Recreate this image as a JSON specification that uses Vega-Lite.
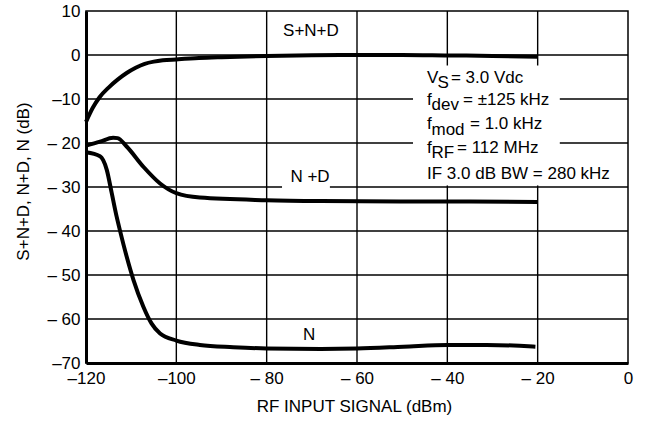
{
  "$schema": "https://vega.github.io/schema/vega-lite/v6.json",
  "width": 542,
  "height": 352,
  "autosize": {"type": "none"},
  "padding": {"left": 86, "top": 11, "right": 17, "bottom": 67},
  "background": "white",
  "config": {
    "view": {"stroke": "black", "strokeWidth": 1.5},
    "font": "Liberation Sans",
    "axis": {
      "grid": false,
      "ticks": false,
      "domainColor": "#000000",
      "domainWidth": 3,
      "labelFontSize": 17,
      "labelFont": "Liberation Sans",
      "labelColor": "#000000",
      "labelFlush": false,
      "labelOverlap": false,
      "titleFontSize": 17,
      "titleFont": "Liberation Sans",
      "titleFontWeight": "normal",
      "titleColor": "#000000"
    }
  },
  "datasets": {
    "gridx": [{"x": -100}, {"x": -80}, {"x": -60}, {"x": -40}, {"x": -20}],
    "gridy": [{"y": -60}, {"y": -50}, {"y": -40}, {"y": -30}, {"y": -20}, {"y": -10}, {"y": 0}],
    "curves": [
      {"series": "S+N+D", "x": -120, "y": -15.2},
      {"series": "S+N+D", "x": -118.5, "y": -12.0},
      {"series": "S+N+D", "x": -117, "y": -9.6},
      {"series": "S+N+D", "x": -115, "y": -7.4},
      {"series": "S+N+D", "x": -113, "y": -5.6},
      {"series": "S+N+D", "x": -111, "y": -4.1},
      {"series": "S+N+D", "x": -109, "y": -2.9},
      {"series": "S+N+D", "x": -107, "y": -2.0},
      {"series": "S+N+D", "x": -105, "y": -1.5},
      {"series": "S+N+D", "x": -103, "y": -1.2},
      {"series": "S+N+D", "x": -100, "y": -1.0},
      {"series": "S+N+D", "x": -95, "y": -0.7},
      {"series": "S+N+D", "x": -90, "y": -0.5},
      {"series": "S+N+D", "x": -80, "y": -0.2},
      {"series": "S+N+D", "x": -70, "y": -0.05},
      {"series": "S+N+D", "x": -60, "y": 0},
      {"series": "S+N+D", "x": -50, "y": 0},
      {"series": "S+N+D", "x": -40, "y": -0.1},
      {"series": "S+N+D", "x": -30, "y": -0.2},
      {"series": "S+N+D", "x": -20, "y": -0.4},
      {"series": "N+D", "x": -120, "y": -20.6},
      {"series": "N+D", "x": -116.9, "y": -19.7},
      {"series": "N+D", "x": -114, "y": -18.8},
      {"series": "N+D", "x": -113, "y": -18.9},
      {"series": "N+D", "x": -111, "y": -20.8},
      {"series": "N+D", "x": -107.3, "y": -25.4},
      {"series": "N+D", "x": -103.6, "y": -29.2},
      {"series": "N+D", "x": -100, "y": -31.4},
      {"series": "N+D", "x": -94.8, "y": -32.4},
      {"series": "N+D", "x": -80, "y": -33.0},
      {"series": "N+D", "x": -68, "y": -33.2},
      {"series": "N+D", "x": -50, "y": -33.3},
      {"series": "N+D", "x": -35, "y": -33.3},
      {"series": "N+D", "x": -20, "y": -33.4},
      {"series": "N", "x": -120, "y": -22.1},
      {"series": "N", "x": -116.9, "y": -23.0},
      {"series": "N", "x": -116.2, "y": -23.9},
      {"series": "N", "x": -115.4, "y": -26.1},
      {"series": "N", "x": -114.3, "y": -31.4},
      {"series": "N", "x": -113.2, "y": -36.8},
      {"series": "N", "x": -112.5, "y": -39.8},
      {"series": "N", "x": -111, "y": -45.8},
      {"series": "N", "x": -109.5, "y": -51.1},
      {"series": "N", "x": -107.3, "y": -57.2},
      {"series": "N", "x": -105.5, "y": -61.0},
      {"series": "N", "x": -103.6, "y": -63.3},
      {"series": "N", "x": -100, "y": -64.9},
      {"series": "N", "x": -94.8, "y": -65.9},
      {"series": "N", "x": -87.4, "y": -66.4},
      {"series": "N", "x": -80, "y": -66.7},
      {"series": "N", "x": -68, "y": -66.8},
      {"series": "N", "x": -60, "y": -66.7},
      {"series": "N", "x": -49.7, "y": -66.3},
      {"series": "N", "x": -40, "y": -65.9},
      {"series": "N", "x": -31.3, "y": -65.9},
      {"series": "N", "x": -24, "y": -66.1},
      {"series": "N", "x": -20.5, "y": -66.3}
    ],
    "masks": [
      {"x": -76.6, "x2": -66.0, "y": -24.0, "y2": -31.0},
      {"x": -47.6, "x2": -15.1, "y": -2.4, "y2": -29.6},
      {"x": -47.6, "x2": -3.0, "y": -23.0, "y2": -29.6}
    ],
    "labels": [
      {"text": "S+N+D", "x": -70.2, "y": 4.3},
      {"text": "N +D", "x": -70.4, "y": -28.9},
      {"text": "N", "x": -70.6, "y": -64.8}
    ],
    "notes": [
      {"text": "V", "x": -44.5, "y": -6.25},
      {"text": "S", "x": -42.18, "y": -7.39},
      {"text": "= 3.0 Vdc", "x": -39.2, "y": -6.25},
      {"text": "f", "x": -44.5, "y": -11.36},
      {"text": "dev", "x": -43.51, "y": -12.5},
      {"text": "= ±125 kHz", "x": -36.53, "y": -11.36},
      {"text": "f", "x": -44.5, "y": -16.93},
      {"text": "mod", "x": -43.51, "y": -18.07},
      {"text": "= 1.0 kHz", "x": -34.98, "y": -16.93},
      {"text": "f", "x": -44.5, "y": -22.16},
      {"text": "RF", "x": -43.51, "y": -23.3},
      {"text": "= 112 MHz", "x": -37.86, "y": -22.16},
      {"text": "IF 3.0 dB BW = 280 kHz", "x": -44.5, "y": -28.18}
    ]
  },
  "layer": [
    {
      "data": {"name": "gridx"},
      "mark": {"type": "rule", "color": "black", "strokeWidth": 1.4},
      "encoding": {
        "x": {
          "field": "x",
          "type": "quantitative",
          "scale": {"domain": [-120, 0], "nice": false, "zero": false},
          "axis": {
            "title": "RF INPUT SIGNAL (dBm)",
            "values": [-120, -100, -80, -60, -40, -20, 0],
            "labelExpr": "datum.value == 0 ? '0' : (datum.value <= -100 ? '–' + abs(datum.value) : '– ' + abs(datum.value))",
            "labelPadding": 7,
            "titleX": 268,
            "titleY": 48,
            "titleBaseline": "alphabetic",
            "titleAlign": "center"
          }
        }
      }
    },
    {
      "data": {"name": "gridy"},
      "mark": {"type": "rule", "color": "black", "strokeWidth": 1.4},
      "encoding": {
        "y": {
          "field": "y",
          "type": "quantitative",
          "scale": {"domain": [-70, 10], "nice": false, "zero": false},
          "axis": {
            "title": "S+N+D, N+D, N (dB)",
            "values": [-70, -60, -50, -40, -30, -20, -10, 0, 10],
            "labelExpr": "datum.value == 10 ? '10' : (datum.value == 0 ? '0' : ((datum.value == -10 || datum.value == -70) ? '–' + abs(datum.value) : '– ' + abs(datum.value)))",
            "labelPadding": 6,
            "titleAngle": -90,
            "titleX": -58,
            "titleY": 170,
            "titleBaseline": "alphabetic",
            "titleAlign": "center"
          }
        }
      }
    },
    {
      "data": {"name": "masks"},
      "mark": {"type": "rect", "fill": "white", "strokeWidth": 0},
      "encoding": {
        "x": {"field": "x", "type": "quantitative"},
        "x2": {"field": "x2"},
        "y": {"field": "y", "type": "quantitative"},
        "y2": {"field": "y2"}
      }
    },
    {
      "data": {"name": "curves"},
      "mark": {"type": "line", "color": "black", "strokeWidth": 4, "interpolate": "monotone", "strokeCap": "butt"},
      "encoding": {
        "x": {"field": "x", "type": "quantitative"},
        "y": {"field": "y", "type": "quantitative"},
        "detail": {"field": "series", "type": "nominal"}
      }
    },
    {
      "data": {"name": "labels"},
      "mark": {"type": "text", "fontSize": 17, "font": "Liberation Sans", "align": "center", "baseline": "alphabetic", "color": "black"},
      "encoding": {
        "x": {"field": "x", "type": "quantitative"},
        "y": {"field": "y", "type": "quantitative"},
        "text": {"field": "text", "type": "nominal"}
      }
    },
    {
      "data": {"name": "notes"},
      "mark": {"type": "text", "fontSize": 17, "font": "Liberation Sans", "align": "left", "baseline": "alphabetic", "color": "black"},
      "encoding": {
        "x": {"field": "x", "type": "quantitative"},
        "y": {"field": "y", "type": "quantitative"},
        "text": {"field": "text", "type": "nominal"}
      }
    }
  ]
}
